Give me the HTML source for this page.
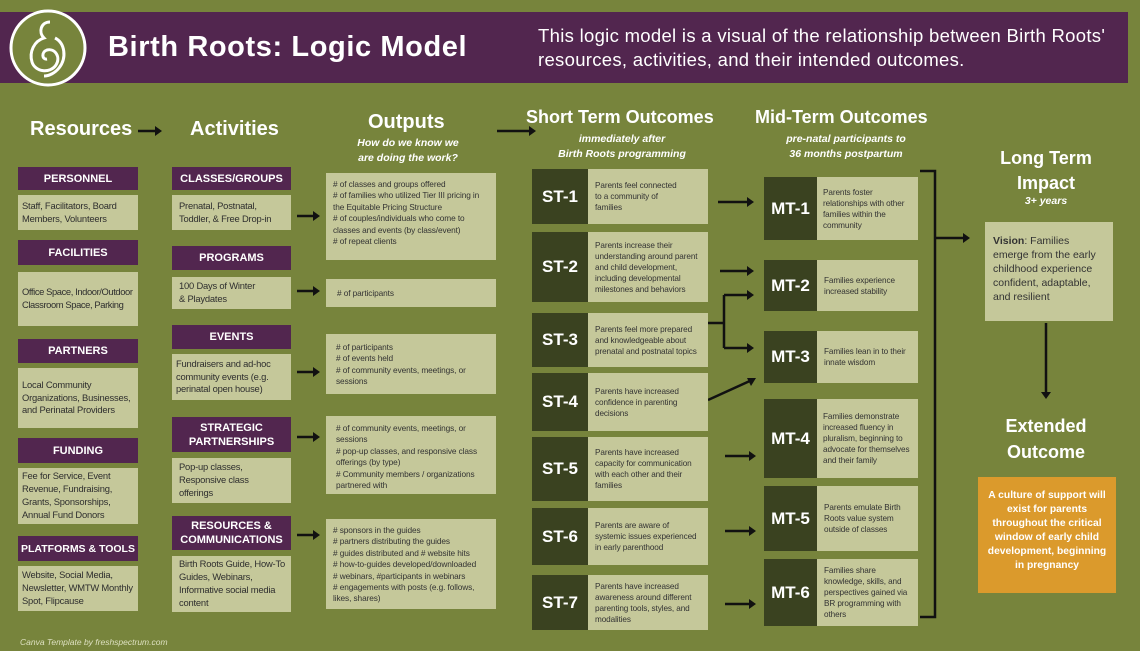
<!DOCTYPE html>
<html><head><meta charset="utf-8"><style>
*{margin:0;padding:0;box-sizing:border-box}
body{width:1140px;height:651px;background:#77843c;position:relative;overflow:hidden;font-family:"Liberation Sans",sans-serif}
.a{position:absolute}
.h{background:#52264f;color:#fff;font-weight:bold;font-size:11px;display:flex;align-items:center;justify-content:center;text-align:center;line-height:14px;white-space:nowrap}
.b{background:#c5c89a;color:#2e2e2e;font-size:9.4px;line-height:12.8px;padding:4px 4px;display:flex;align-items:center;letter-spacing:-0.2px}
.o{background:#c5c89a;color:#333;font-size:8.3px;line-height:11.4px;padding:6px 7px;letter-spacing:-0.1px}
.d{background:#3a4220;color:#fff;font-weight:bold;font-size:17px;display:flex;align-items:center;justify-content:center}
.l{background:#c5c89a;color:#333;font-size:8.2px;line-height:11px;padding:3px 7px;display:flex;align-items:center;letter-spacing:-0.1px}
.t{color:#fff;font-weight:bold;font-size:20px;white-space:nowrap}
.s{color:#fff;font-weight:bold;font-style:italic;font-size:10.5px;text-align:center;line-height:15px}
</style></head><body>
<div class="a" style="left:0;top:12px;width:1128px;height:71px;background:#52264f"></div>
<svg class="a" style="left:0;top:0" width="1140" height="651">
<circle cx="48" cy="48" r="37" fill="#77843c" stroke="#fff" stroke-width="3"/>
<path d="M50 22 c-9 0 -12 10 -6 16 c-10 3 -15 14 -12 24 c3 10 18 12 24 3 c5 -8 -1 -17 -9 -15 c-6 2 -5 10 0 9 M55 38 c10 5 12 20 4 30 c-4 5 -10 8 -15 8" fill="none" stroke="#fff" stroke-width="3"/>
<g stroke="#111" stroke-width="2.5" fill="none">
<path d="M138 131h20M497 131h35M718 202h32M720 271h30M708 323h16M724 295v53M724 295h26M724 348h26M708 400l44-20M725 456h27M725 531h27M725 604h27M920 171h15v446h-15M935 238h30M1046 323v72"/>
<path d="M297 216h18M297 291h18M297 372h18M297 437h18M297 535h18"/>
</g>
<g fill="#111">
<path d="M162 131l-7-5v10z M536 131l-7-5v10z M754 202l-7-5v10z M754 271l-7-5v10z M754 295l-7-5v10z M754 348l-7-5v10z M756 378l-9 0l4 8z M756 456l-7-5v10z M756 531l-7-5v10z M756 604l-7-5v10z M970 238l-7-5v10z M1046 399l-5-7h10z"/>
<path d="M320 216l-7-5v10z M320 291l-7-5v10z M320 372l-7-5v10z M320 437l-7-5v10z M320 535l-7-5v10z"/>
</g>
</svg>
<div class="a" style="left:108px;top:31px;color:#fff;font-weight:bold;font-size:29px;letter-spacing:0.6px">Birth Roots: Logic Model</div>
<div class="a" style="left:538px;top:24px;color:#fff;font-size:18.5px;line-height:24px;letter-spacing:0.3px;white-space:nowrap">This logic model is a visual of the relationship between Birth Roots'<br>resources, activities, and their intended outcomes.</div>
<div class="a t" style="left:30px;top:118px">Resources</div>
<div class="a t" style="left:190px;top:118px">Activities</div>
<div class="a t" style="left:368px;top:111px">Outputs</div>
<div class="a s" style="left:328px;top:136px;width:160px">How do we know we<br>are doing the work?</div>
<div class="a t" style="left:526px;top:107px;font-size:18px">Short Term Outcomes</div>
<div class="a s" style="left:532px;top:132px;width:180px">immediately after<br>Birth Roots programming</div>
<div class="a t" style="left:755px;top:107px;font-size:18px">Mid-Term Outcomes</div>
<div class="a s" style="left:756px;top:132px;width:180px">pre-natal participants to<br>36 months postpartum</div>
<div class="a t" style="left:976px;top:146px;width:140px;text-align:center;font-size:18px;line-height:25px;white-space:normal">Long Term Impact</div>
<div class="a s" style="left:976px;top:194px;width:140px">3+ years</div>

<div class="a h" style="left:18px;top:167px;width:120px;height:23px">PERSONNEL</div>
<div class="a b" style="left:18px;top:195px;width:120px;height:35px">Staff, Facilitators, Board Members, Volunteers</div>
<div class="a h" style="left:18px;top:240px;width:120px;height:25px">FACILITIES</div>
<div class="a b" style="left:18px;top:272px;width:120px;height:54px;letter-spacing:-0.4px">Office Space, Indoor/Outdoor Classroom Space, Parking</div>
<div class="a h" style="left:18px;top:339px;width:120px;height:24px">PARTNERS</div>
<div class="a b" style="left:18px;top:368px;width:120px;height:60px">Local Community Organizations, Businesses, and Perinatal Providers</div>
<div class="a h" style="left:18px;top:438px;width:120px;height:25px">FUNDING</div>
<div class="a b" style="left:18px;top:468px;width:120px;height:56px">Fee for Service, Event Revenue, Fundraising, Grants, Sponsorships, Annual Fund Donors</div>
<div class="a h" style="left:18px;top:536px;width:120px;height:25px;font-size:10.5px">PLATFORMS &amp; TOOLS</div>
<div class="a b" style="left:18px;top:566px;width:120px;height:45px">Website, Social Media, Newsletter, WMTW Monthly Spot, Flipcause</div>

<div class="a h" style="left:172px;top:167px;width:119px;height:23px">CLASSES/GROUPS</div>
<div class="a b" style="left:172px;top:195px;width:119px;height:35px;padding-left:7px">Prenatal, Postnatal, Toddler, &amp; Free Drop-in</div>
<div class="a h" style="left:172px;top:246px;width:119px;height:24px">PROGRAMS</div>
<div class="a b" style="left:172px;top:277px;width:119px;height:32px;padding-left:7px">100 Days of Winter<br>&amp; Playdates</div>
<div class="a h" style="left:172px;top:325px;width:119px;height:24px">EVENTS</div>
<div class="a b" style="left:172px;top:354px;width:119px;height:46px">Fundraisers and ad-hoc community events (e.g. perinatal open house)</div>
<div class="a h" style="left:172px;top:417px;width:119px;height:35px">STRATEGIC<br>PARTNERSHIPS</div>
<div class="a b" style="left:172px;top:458px;width:119px;height:45px;padding-left:7px">Pop-up classes,<br>Responsive class<br>offerings</div>
<div class="a h" style="left:172px;top:516px;width:119px;height:34px">RESOURCES &amp;<br>COMMUNICATIONS</div>
<div class="a b" style="left:172px;top:556px;width:119px;height:56px;padding-left:7px">Birth Roots Guide, How-To Guides, Webinars, Informative social media content</div>

<div class="a o" style="left:326px;top:173px;width:170px;height:87px"># of classes and groups offered<br># of families who utilized Tier III pricing in the Equitable Pricing Structure<br># of couples/individuals who come to classes and events (by class/event)<br># of repeat clients</div>
<div class="a o" style="left:326px;top:279px;width:170px;height:28px;padding-left:11px;padding-top:9px"># of participants</div>
<div class="a o" style="left:326px;top:334px;width:170px;height:60px;padding-left:10px;padding-top:8px"># of participants<br># of events held<br># of community events, meetings, or sessions</div>
<div class="a o" style="left:326px;top:416px;width:170px;height:78px;padding-left:10px;padding-top:7px"># of community events, meetings, or sessions<br># pop-up classes, and responsive class offerings (by type)<br># Community members / organizations partnered with</div>
<div class="a o" style="left:326px;top:519px;width:170px;height:90px;padding-top:6px"># sponsors in the guides<br># partners distributing the guides<br># guides distributed and # website hits<br># how-to-guides developed/downloaded<br># webinars, #participants in webinars<br># engagements with posts (e.g. follows, likes, shares)</div>

<div class="a d" style="left:532px;top:169px;width:56px;height:55px">ST-1</div><div class="a l" style="left:588px;top:169px;width:120px;height:55px">Parents feel connected<br>to a community of<br>families</div>
<div class="a d" style="left:532px;top:232px;width:56px;height:70px">ST-2</div><div class="a l" style="left:588px;top:232px;width:120px;height:70px">Parents increase their understanding around parent and child development, including developmental milestones and behaviors</div>
<div class="a d" style="left:532px;top:313px;width:56px;height:54px">ST-3</div><div class="a l" style="left:588px;top:313px;width:120px;height:54px">Parents feel more prepared and knowledgeable about prenatal and postnatal topics</div>
<div class="a d" style="left:532px;top:373px;width:56px;height:58px">ST-4</div><div class="a l" style="left:588px;top:373px;width:120px;height:58px">Parents have increased confidence in parenting decisions</div>
<div class="a d" style="left:532px;top:437px;width:56px;height:64px">ST-5</div><div class="a l" style="left:588px;top:437px;width:120px;height:64px">Parents have increased capacity for communication with each other and their families</div>
<div class="a d" style="left:532px;top:508px;width:56px;height:57px">ST-6</div><div class="a l" style="left:588px;top:508px;width:120px;height:57px">Parents are aware of systemic issues experienced in early parenthood</div>
<div class="a d" style="left:532px;top:575px;width:56px;height:55px">ST-7</div><div class="a l" style="left:588px;top:575px;width:120px;height:55px">Parents have increased awareness around different parenting tools, styles, and modalities</div>

<div class="a d" style="left:764px;top:177px;width:53px;height:63px">MT-1</div><div class="a l" style="left:817px;top:177px;width:101px;height:63px;padding-left:6px">Parents foster relationships with other families within the community</div>
<div class="a d" style="left:764px;top:260px;width:53px;height:51px">MT-2</div><div class="a l" style="left:817px;top:260px;width:101px;height:51px">Families experience increased stability</div>
<div class="a d" style="left:764px;top:331px;width:53px;height:52px">MT-3</div><div class="a l" style="left:817px;top:331px;width:101px;height:52px">Families lean in to their innate wisdom</div>
<div class="a d" style="left:764px;top:399px;width:53px;height:79px">MT-4</div><div class="a l" style="left:817px;top:399px;width:101px;height:79px;padding-left:6px">Families demonstrate increased fluency in pluralism, beginning to advocate for themselves and their family</div>
<div class="a d" style="left:764px;top:486px;width:53px;height:65px">MT-5</div><div class="a l" style="left:817px;top:486px;width:101px;height:65px">Parents emulate Birth Roots value system outside of classes</div>
<div class="a d" style="left:764px;top:559px;width:53px;height:67px">MT-6</div><div class="a l" style="left:817px;top:559px;width:101px;height:67px">Families share knowledge, skills, and perspectives gained via BR programming with others</div>

<div class="a" style="left:985px;top:222px;width:128px;height:99px;background:#c5c89a;color:#333;font-size:10.5px;line-height:14px;padding:12px 8px"><b>Vision</b>: Families emerge from the early childhood experience confident, adaptable, and resilient</div>
<div class="a t" style="left:976px;top:413px;width:140px;text-align:center;font-size:18px;line-height:26px;white-space:normal">Extended Outcome</div>
<div class="a" style="left:978px;top:477px;width:138px;height:116px;background:#db9a2c;color:#fff;font-weight:bold;font-size:10.3px;line-height:14px;text-align:center;padding:12px 4px">A culture of support will exist for parents throughout the critical window of early child development, beginning in pregnancy</div>
<div class="a" style="left:20px;top:637px;color:#dde0c0;font-style:italic;font-size:8.5px">Canva Template by freshspectrum.com</div>
</body></html>
